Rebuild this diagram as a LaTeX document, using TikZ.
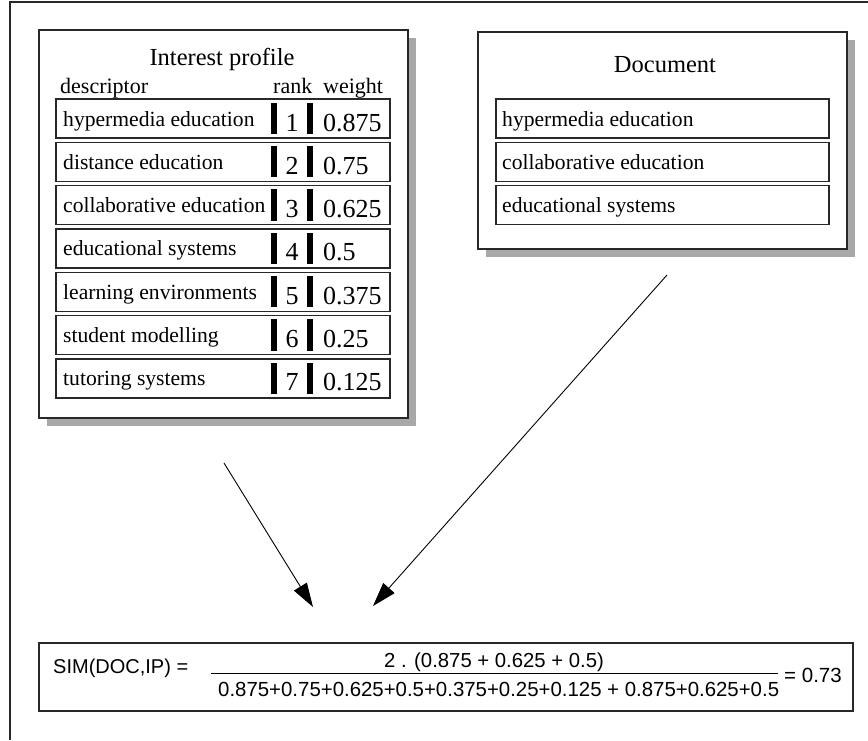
\documentclass[tikz,border=0pt]{standalone}
\usepackage{fontspec}
\setmainfont{Liberation Serif}
\setsansfont{Liberation Sans}
\usetikzlibrary{arrows.meta}
\definecolor{shadowgray}{RGB}{168,168,168}
\definecolor{linegray}{RGB}{40,40,40}
\begin{document}
\begin{tikzpicture}[x=1pt,y=-1pt,
  outerframe/.style={draw=linegray, line width=1.2pt},
  panel/.style={draw=linegray, fill=white, line width=1.3pt, anchor=north west, inner sep=0pt, outer sep=0pt},
  rowbox/.style={draw=linegray, fill=white, line width=1.1pt, anchor=north west, inner sep=0pt, outer sep=0pt, minimum height=39pt},
  rowtext/.style={anchor=base west, inner sep=0pt, font=\fontsize{21.6}{26}\selectfont},
  numtext/.style={inner sep=0pt, font=\fontsize{26}{30}\selectfont},
  headtext/.style={inner sep=0pt, font=\fontsize{22}{26}\selectfont},
  titletext/.style={anchor=base, inner sep=0pt, font=\fontsize{24.5}{29}\selectfont},
  formula/.style={inner sep=0pt, font=\sffamily\fontsize{20}{24}\selectfont},
  arrowline/.style={draw=black, line width=0.9pt, -{Triangle[length=24pt,width=15pt]}},
  shadow/.style={fill=shadowgray}
]
\useasboundingbox (0,0) rectangle (868,740);
% outer frame
\draw[outerframe] (10,740) -- (10,2) -- (868,2);

% Interest profile panel
\fill[shadow] (47,38) rectangle (416,426);
\node[panel, minimum width=369pt, minimum height=388pt] (ip) at (39,30) {};
\node[titletext] (iptitle) at (222,65) {Interest profile};
\node[headtext, anchor=base west] (hdesc) at (60,93) {descriptor};
\node[headtext, anchor=base west] (hrank) at (273,93) {rank};
\node[headtext, anchor=base west] (hweight) at (323,93) {weight};
\foreach \dd/\rr/\ww [count=\i from 0] in {hypermedia education/1/0.875, distance education/2/0.75, collaborative education/3/0.625, educational systems/4/0.5, learning environments/5/0.375, student modelling/6/0.25, tutoring systems/7/0.125} {
  \pgfmathsetmacro\yy{99+43.33*\i}
  \node[rowbox, minimum width=334pt] (ipr\i) at (56,\yy) {};
  \node[rowtext] (ipd\i) at (63,\yy+27) {\dd};
  \fill[black] (271,\yy+3.7) rectangle (277,\yy+35);
  \fill[black] (307,\yy+3.7) rectangle (313,\yy+35);
  \node[numtext, anchor=base] (ipk\i) at (292,\yy+32) {\rr};
  \node[numtext, anchor=base west] (ipw\i) at (323,\yy+32) {\ww};
}

% Document panel
\fill[shadow] (486,40) rectangle (855,257);
\node[panel, minimum width=369pt, minimum height=217pt] (doc) at (478,32) {};
\node[titletext] (doctitle) at (665,72) {Document};
\foreach \dd [count=\i from 0] in {hypermedia education, collaborative education, educational systems} {
  \pgfmathsetmacro\yy{99+43.33*\i}
  \node[rowbox, minimum width=333pt] (docr\i) at (496,\yy) {};
  \node[rowtext] (docd\i) at (502,\yy+27) {\dd};
}

% arrows
\coordinate (a1s) at (224,463);
\coordinate (a1e) at (313,607);
\coordinate (a2s) at (667,275);
\coordinate (a2e) at (373,606);
\draw[arrowline] (a1s) -- (a1e);
\draw[arrowline] (a2s) -- (a2e);

% formula box
\node[panel, line width=1.1pt, minimum width=814pt, minimum height=68pt] (fbox) at (39,643) {};
\node[formula, anchor=base west] (sim) at (53,673) {SIM(DOC,IP) =};
\node[formula, anchor=base, font=\sffamily\fontsize{20.3}{24}\selectfont] (num) at (494,667) {2 . (0.875 + 0.625 + 0.5)};
\draw[line width=1pt] (211,673) -- (778,673);
\node[formula, anchor=base west, font=\sffamily\fontsize{20.4}{24}\selectfont] (den) at (218,696) {0.875+0.75+0.625+0.5+0.375+0.25+0.125 + 0.875+0.625+0.5};
\node[formula, anchor=base west, font=\sffamily\fontsize{20.5}{24}\selectfont] (res) at (784,682) {= 0.73};
\end{tikzpicture}
\end{document}
